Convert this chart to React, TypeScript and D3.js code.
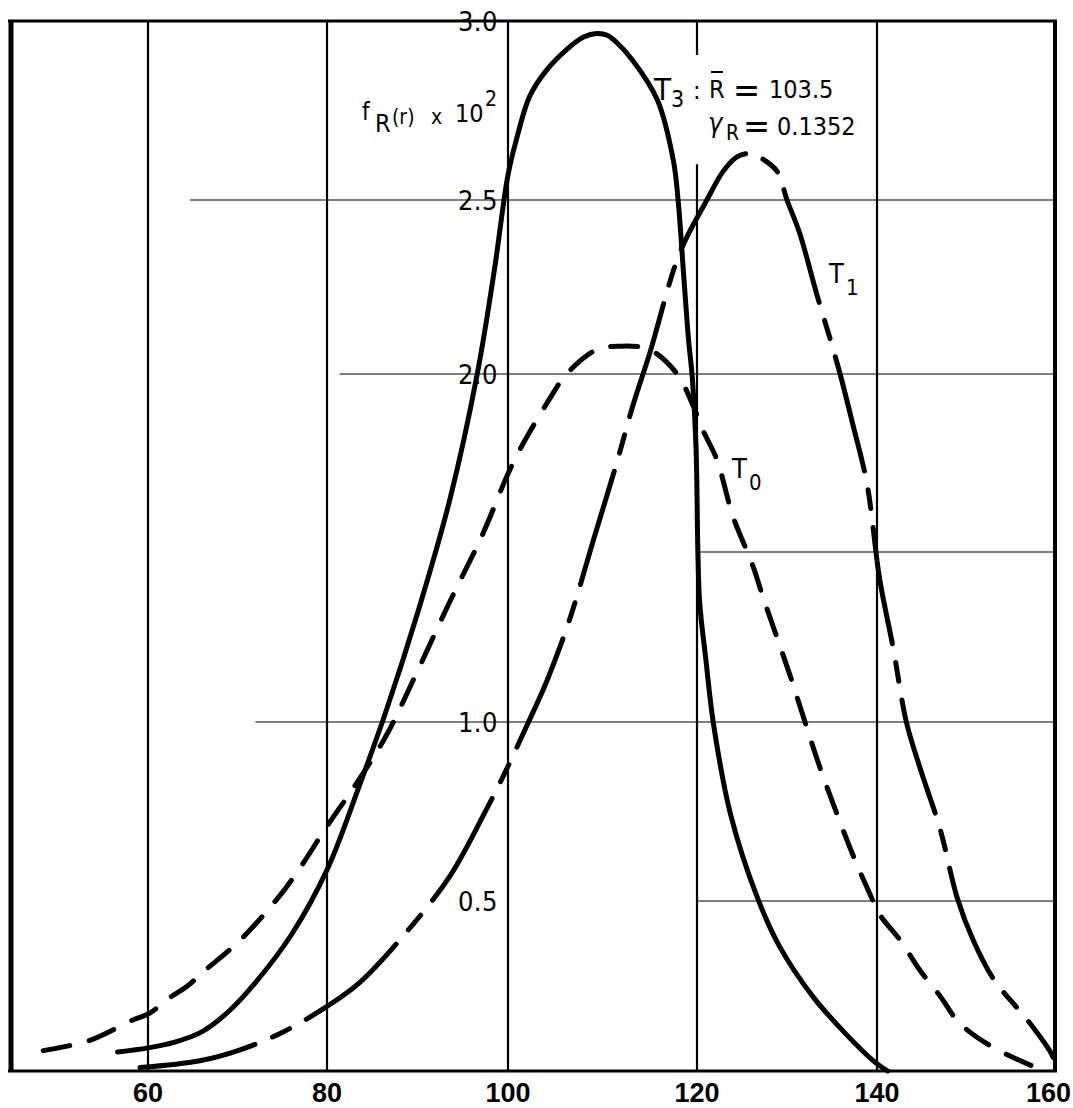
import React from 'react';
import * as d3 from 'd3';

// ---- data ----
const xTicks = [60, 80, 100, 120, 140, 160];
const yTickLabels = ['3.0', '2.5', '2.0', '1.0', '0.5'];
const yTickValues = [3.0, 2.5, 2.0, 1.0, 0.5];
const hGridValues = [2.5, 2.0, 1.5, 1.0, 0.5];
const hGridStart = [64.7, 81.4, 120, 72.0, 120];

// T3 (solid)
const t3X = [56.6, 60, 63, 66, 69, 72, 76, 80, 83.4, 86.5, 90, 93.6, 96.6, 98.5, 100, 101, 102.3, 104, 106.2, 108, 109.4, 110.5, 111.5, 113.2, 115.8, 117.5, 118.0, 118.6, 119.1, 119.5, 119.9, 120.1, 120.3, 121.0, 121.8, 123.7, 126.7, 129.2, 132.9, 136.5, 139.6, 141.2];
const t3Y = [0.056, 0.068, 0.085, 0.115, 0.175, 0.26, 0.40, 0.587, 0.81, 1.03, 1.32, 1.65, 2.0, 2.3, 2.57, 2.68, 2.79, 2.86, 2.92, 2.955, 2.965, 2.96, 2.94, 2.89, 2.78, 2.61, 2.5, 2.28, 2.1, 1.99, 1.79, 1.5, 1.35, 1.18, 1.0, 0.745, 0.51, 0.365, 0.218, 0.11, 0.03, 0.0];

// T0 (short dashes)
const t0X = [48.3, 53.5, 58.3, 60.2, 62.1, 64.4, 66.1, 70.3, 75.5, 80.3, 83.3, 86.5, 90, 93.5, 97.2, 100, 101.3, 104.4, 106.2, 109.4, 111.9, 115.0, 117.9, 119.6, 120.7, 122.2, 124.0, 126.2, 127.3, 130.3, 132.0, 133.7, 135.6, 137.3, 139.2, 140.3, 142.6, 144.8, 147.1, 149.3, 153.0, 157.9];
const t0Y = [0.06, 0.09, 0.15, 0.17, 0.21, 0.25, 0.29, 0.385, 0.54, 0.72, 0.83, 0.96, 1.15, 1.35, 1.55, 1.72, 1.79, 1.93, 2.0, 2.07, 2.08, 2.07, 2.0, 1.91, 1.84, 1.76, 1.6, 1.46, 1.37, 1.14, 1.0, 0.87, 0.74, 0.63, 0.52, 0.46, 0.385, 0.297, 0.22, 0.14, 0.07, 0.01];

// T1 (long dashes)
const t1X = [59.1, 65.8, 70.3, 75.1, 80, 83.6, 88.5, 93.6, 97.7, 99.5, 102, 104.1, 106.5, 109, 111.5, 113.2, 115, 118.2, 121.1, 122.9, 124.4, 125.8, 126.9, 128.9, 130, 131.4, 133.3, 134.8, 135.9, 137.3, 138.9, 140.3, 141.8, 143.3, 144.8, 147.1, 149, 150.8, 153.1, 156.9, 159.4, 159.8];
const t1Y = [0.01, 0.03, 0.062, 0.115, 0.19, 0.26, 0.40, 0.57, 0.76, 0.85, 0.99, 1.12, 1.30, 1.53, 1.75, 1.91, 2.06, 2.35, 2.5, 2.58, 2.62, 2.63, 2.62, 2.58, 2.5, 2.405, 2.23, 2.1, 2.0, 1.86, 1.69, 1.42, 1.22, 1.0, 0.874, 0.70, 0.51, 0.385, 0.27, 0.15, 0.06, 0.04];

const zip = (xs: number[], ys: number[]) => xs.map((x, i) => [x, ys[i]] as [number, number]);

export default function App() {
  const x = d3.scaleLinear().domain([44.7, 60, 80, 100, 120, 140, 160]).range([11, 148, 327, 508, 697, 877, 1055]);
  const y = d3.scaleLinear().domain([0, 0.5, 1, 1.5, 2, 2.5, 3]).range([1071, 901, 722, 552, 374, 200, 21]);
  const line = d3.line<[number, number]>().x(d => x(d[0])).y(d => y(d[1])).curve(d3.curveCatmullRom.alpha(0.5));

  const numFont = "'Liberation Sans Narrow', 'Liberation Sans', sans-serif";
  const annFont = "'DejaVu Sans Condensed', 'DejaVu Sans', sans-serif";
  const xMin = 44.7, xMax = 160;

  return (
    <svg width={1073} height={1108} style={{ position: 'absolute', left: 0, top: 0, background: '#fff' }}>
      <rect x={0} y={0} width={1073} height={1108} fill="#fff" />
      {/* horizontal grid */}
      {hGridValues.map((v, i) => (
        <line key={'h' + i} x1={x(hGridStart[i])} x2={x(xMax)} y1={y(v)} y2={y(v)} stroke="#555" strokeWidth={1.5} />
      ))}
      {/* vertical grid */}
      {xTicks.slice(0, 5).map(t => (
        t === 120 ? (
          <g key={'v' + t}>
            <line x1={x(t)} x2={x(t)} y1={y(3)} y2={y(2.905)} stroke="#000" strokeWidth={2.2} />
            <line x1={x(t)} x2={x(t)} y1={y(2.6)} y2={y(0)} stroke="#000" strokeWidth={2.2} />
          </g>
        ) : (
          <line key={'v' + t} x1={x(t)} x2={x(t)} y1={y(3)} y2={y(0)} stroke="#000" strokeWidth={2.2} />
        )
      ))}
      {/* frame */}
      <line x1={x(xMin) - 3} x2={x(xMax) + 2} y1={y(3)} y2={y(3)} stroke="#000" strokeWidth={3} />
      <line x1={x(xMin) - 3} x2={x(xMax) + 2} y1={y(0)} y2={y(0)} stroke="#000" strokeWidth={3} />
      <line x1={x(xMin)} x2={x(xMin)} y1={y(3)} y2={y(0)} stroke="#000" strokeWidth={5} />
      <line x1={x(xMax)} x2={x(xMax)} y1={y(3)} y2={y(0)} stroke="#000" strokeWidth={4} />

      {/* curves */}
      <path d={line(zip(t3X, t3Y)) || ''} fill="none" stroke="#000" strokeWidth={5} strokeLinejoin="round" strokeLinecap="round" />
      <path d={line(zip(t0X, t0Y)) || ''} fill="none" stroke="#000" strokeWidth={5} strokeDasharray="27 20" strokeLinecap="round" />
      <path d={line(zip(t1X, t1Y)) || ''} fill="none" stroke="#000" strokeWidth={5} strokeDasharray="118 19 19 19" strokeLinecap="round" />

      {/* y tick labels */}
      {yTickValues.map((v, i) => (
        <text key={'yl' + i} x={x(100) - 10} y={y(v)} dy="0.36em" textAnchor="end" fontFamily={annFont} fontSize={27} letterSpacing={0.5} fill="#000">{yTickLabels[i]}</text>
      ))}
      {/* x tick labels */}
      {xTicks.map((t, i) => (
        <text key={'xl' + t} x={i === xTicks.length - 1 ? x(t) + 16 : x(t)} y={1102} textAnchor={i === xTicks.length - 1 ? 'end' : 'middle'} fontFamily={numFont} fontWeight="bold" fontSize={27} fill="#000">{t}</text>
      ))}

      {/* annotations */}
      <g fontFamily={annFont} fill="#000">
        <text x={362} y={120} fontSize={24}>f</text>
        <text x={375} y={132} fontSize={25}>R</text>
        <text x={392} y={124} fontSize={21}>(r)</text>
        <text x={431} y={124} fontSize={21}>x</text>
        <text x={455} y={122} fontSize={25}>10</text>
        <text x={485} y={106} fontSize={21}>2</text>

        <text x={654} y={100} fontSize={31}>T</text>
        <text x={671} y={107} fontSize={23}>3</text>
        <text x={693} y={99} fontSize={25}>:</text>
        <text x={709} y={98} fontSize={25}>R</text>
        <line x1={711} x2={723} y1={72} y2={72} stroke="#000" strokeWidth={2} />
        <text x={733} y={102} fontSize={36}>=</text>
        <text x={769} y={98} fontSize={25}>103.5</text>

        <text x={708} y={132} fontSize={27} fontStyle="italic">γ</text>
        <text x={726} y={140} fontSize={21}>R</text>
        <text x={743} y={138} fontSize={36}>=</text>
        <text x={777} y={135} fontSize={25}>0.1352</text>

        <text x={829} y={283} fontSize={27}>T</text>
        <text x={846} y={295} fontSize={22}>1</text>

        <text x={732} y={478} fontSize={27}>T</text>
        <text x={749} y={490} fontSize={22}>0</text>
      </g>
    </svg>
  );
}
